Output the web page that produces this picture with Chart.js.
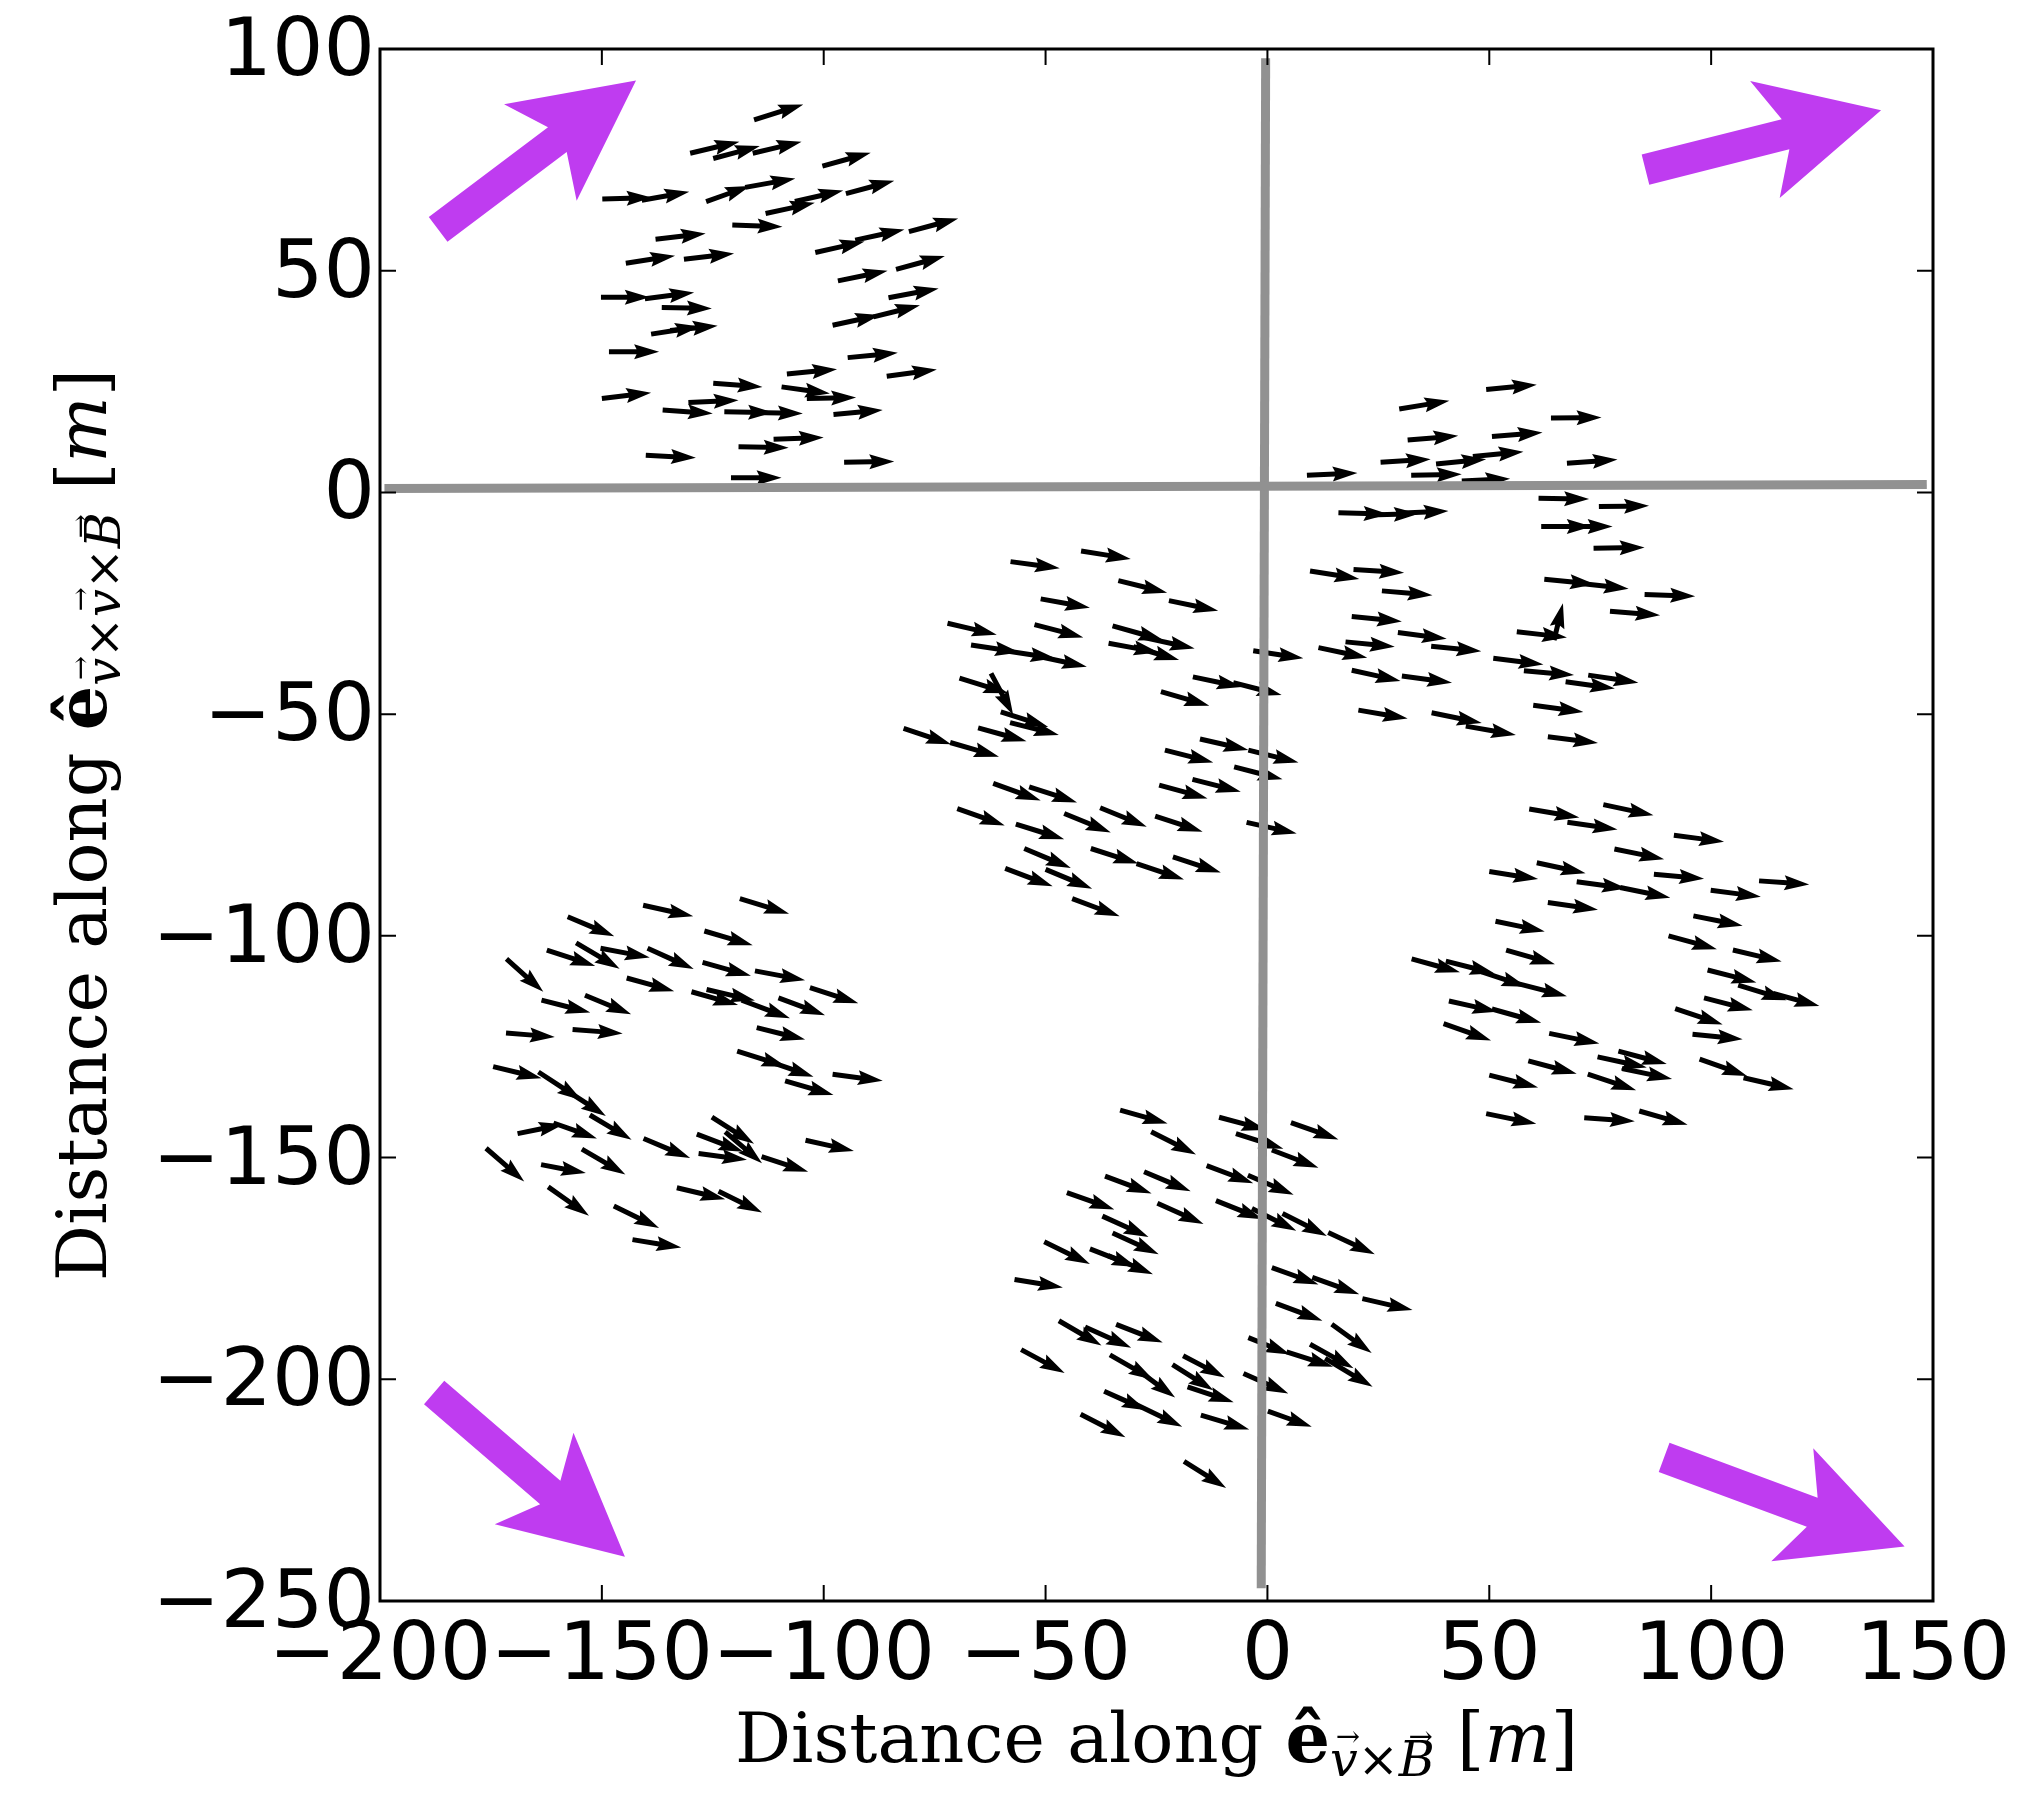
<!DOCTYPE html>
<html>
<head>
<meta charset="utf-8">
<script src="https://cdn.jsdelivr.net/npm/chart.js@4.4.1/dist/chart.umd.min.js"></script>
<style>
  html, body { margin: 0; padding: 0; background: #fff; }
</style>
</head>
<body>
<canvas id="quiverChart" width="2038" height="1793"></canvas>
<script>
// axis ranges / ticks (metres)
const xRange = [-200, 150];
const yRange = [-250, 100];
const tickStep = 50;

// quiver arrows per station group: [tail x, tail y, u, v]
const groupTopLeft = [
    [-115.7, 84.0, 11.1, 3.5], [-130.1, 76.5, 11.1, 2.6], [-124.9, 75.3, 10.5, 2.8], [-116.0, 76.5, 11.0, 2.6],
    [-100.3, 73.6, 10.9, 3.0], [-149.9, 66.2, 11.1, 0.3], [-141.0, 65.9, 10.7, 1.9], [-126.5, 65.6, 9.9, 3.5],
    [-117.7, 68.8, 11.3, 2.0], [-113.1, 62.9, 11.1, 2.4], [-106.5, 65.6, 10.9, 2.5], [-95.0, 67.4, 10.9, 2.9],
    [-120.6, 60.3, 11.3, -0.4], [-137.9, 57.1, 11.3, 1.3], [-144.6, 51.7, 11.1, 1.7], [-131.5, 52.6, 11.3, 1.3],
    [-101.9, 54.1, 11.1, 2.5], [-92.9, 56.9, 11.1, 2.4], [-80.8, 58.8, 11.1, 3.0], [-96.8, 47.7, 11.2, 2.3],
    [-83.7, 50.3, 11.0, 3.0], [-150.2, 44.0, 11.0, 0.0], [-140.3, 43.7, 11.1, 1.4], [-136.5, 41.7, 11.3, -0.2],
    [-138.9, 35.7, 11.0, 1.7], [-134.6, 36.5, 10.7, 1.1], [-85.4, 43.9, 11.3, 2.1], [-98.0, 37.7, 10.7, 2.3],
    [-88.8, 39.6, 10.5, 2.6], [-148.4, 31.7, 11.3, 0.0], [-94.6, 30.4, 11.3, 1.1], [-108.3, 26.7, 11.3, 1.1],
    [-85.8, 26.2, 11.3, 1.5], [-124.9, 24.6, 11.1, -0.8], [-109.5, 23.8, 10.9, -1.5], [-103.8, 21.2, 11.1, 0.2],
    [-150.0, 21.2, 11.1, 1.3], [-130.5, 20.3, 11.3, 0.5], [-136.3, 18.6, 11.3, -0.8], [-122.4, 18.2, 11.0, -0.2],
    [-116.2, 18.0, 11.5, -0.2], [-97.8, 17.6, 11.1, 1.0], [-111.3, 12.0, 11.3, 0.4], [-119.2, 10.3, 11.3, -0.2],
    [-140.1, 8.4, 11.3, -0.6], [-95.4, 6.8, 11.3, 0.2], [-120.9, 3.3, 11.4, 0.0]
];

const groupCentreRight = [
    [49.3, 23.2, 11.4, 1.1], [29.7, 18.8, 11.3, 1.9], [63.9, 16.8, 11.4, 0.1], [31.6, 11.8, 11.4, 1.0],
    [50.6, 12.6, 11.4, 0.9], [25.5, 6.8, 11.3, 0.7], [38.0, 6.4, 11.3, 1.1], [46.3, 8.1, 11.4, 1.1],
    [67.5, 6.6, 11.4, 0.8], [8.9, 3.9, 11.4, 0.5], [32.4, 3.9, 11.4, 0.2], [43.8, 2.6, 10.9, 0.5],
    [61.1, -1.3, 11.4, -0.2], [74.7, -3.2, 11.3, 0.2], [16.0, -4.6, 11.3, -0.3], [22.8, -5.1, 11.3, 0.3],
    [29.5, -4.7, 11.3, 0.5], [61.7, -7.7, 11.4, 0.0], [67.3, -7.7, 10.5, 0.0], [73.5, -12.6, 11.5, 0.2],
    [9.6, -17.7, 11.1, -1.8], [19.4, -17.4, 11.4, -0.7], [25.8, -22.2, 11.4, -1.0], [62.4, -19.6, 11.4, -1.1],
    [70.1, -20.5, 11.3, -1.2], [85.0, -23.0, 11.4, -0.4], [77.2, -26.8, 11.3, -0.9], [64.6, -33.3, 2.0, 8.3],
    [56.2, -31.4, 11.3, -1.3], [19.0, -28.0, 11.3, -1.1], [29.4, -31.6, 11.0, -1.4], [17.6, -33.7, 11.1, -1.1],
    [11.5, -35.0, 11.0, -2.3], [36.9, -34.7, 11.3, -1.1], [50.9, -37.4, 11.3, -1.4], [57.8, -40.2, 11.3, -1.0],
    [67.2, -42.7, 11.1, -1.5], [72.3, -41.2, 11.3, -1.7], [19.0, -40.1, 11.0, -2.4], [30.3, -41.4, 11.3, -1.5],
    [20.5, -49.1, 11.1, -1.9], [37.0, -49.7, 11.3, -2.3], [44.7, -52.7, 11.3, -2.0], [59.9, -48.0, 11.3, -1.5],
    [63.2, -55.1, 11.3, -1.4]
];

const groupMiddle = [
    [-57.9, -15.6, 11.1, -1.5], [-42.0, -13.2, 11.2, -1.8], [-33.6, -19.9, 11.0, -2.7], [-51.1, -24.0, 11.1, -2.0],
    [-22.2, -24.4, 11.1, -2.3], [-72.1, -29.5, 11.1, -2.6], [-52.5, -29.8, 11.0, -2.9], [-34.9, -30.1, 11.4, -3.2],
    [-28.0, -32.7, 11.6, -2.5], [-35.8, -34.0, 11.3, -2.1], [-30.2, -34.8, 10.3, -3.0], [-66.8, -34.4, 11.0, -1.7],
    [-59.1, -35.7, 11.3, -1.7], [-52.0, -36.9, 11.3, -2.4], [-3.2, -35.7, 11.3, -1.7], [-69.4, -41.9, 11.0, -3.4],
    [-62.3, -40.8, 5.0, -9.4], [-16.8, -41.6, 11.0, -2.3], [-7.7, -42.9, 10.9, -2.8], [-24.0, -44.9, 10.9, -3.2],
    [-60.1, -49.5, 10.7, -3.4], [-58.0, -51.9, 11.0, -2.8], [-82.0, -53.2, 10.7, -3.6], [-71.5, -56.4, 11.0, -3.2],
    [-65.2, -53.1, 10.9, -3.0], [-15.2, -55.6, 10.9, -2.5], [-4.3, -58.1, 11.3, -2.8], [-23.1, -58.1, 10.9, -2.8],
    [-7.5, -61.9, 10.9, -2.8], [-16.9, -64.7, 10.9, -2.8], [-24.4, -66.0, 10.9, -3.0], [-61.8, -65.6, 10.7, -3.9],
    [-53.7, -66.4, 10.8, -3.5], [-69.9, -71.3, 10.7, -3.8], [-56.7, -74.8, 10.9, -3.4], [-45.8, -72.4, 10.5, -4.3],
    [-37.7, -71.1, 10.5, -4.3], [-25.3, -73.0, 10.7, -3.5], [-4.7, -74.4, 11.3, -2.5], [-54.8, -80.3, 10.5, -4.4],
    [-39.8, -80.3, 10.7, -3.4], [-29.5, -83.7, 10.7, -3.6], [-21.3, -82.2, 10.8, -3.5], [-59.1, -84.8, 10.7, -4.0],
    [-50.0, -85.0, 10.5, -4.4], [-44.0, -91.6, 10.7, -4.0]
];

const groupRight = [
    [59.0, -71.4, 11.3, -1.9], [75.7, -70.4, 11.3, -2.4], [67.6, -74.4, 11.3, -1.6], [91.6, -77.3, 11.3, -1.5],
    [78.2, -80.4, 11.2, -2.3], [60.7, -83.5, 11.0, -2.4], [50.0, -85.5, 11.0, -1.7], [87.1, -86.1, 11.3, -1.0],
    [110.8, -87.6, 11.3, -0.8], [69.7, -87.8, 11.3, -1.5], [79.5, -89.1, 11.3, -2.3], [99.9, -89.7, 11.3, -1.5],
    [63.2, -92.5, 11.3, -1.6], [96.0, -95.5, 11.1, -2.2], [51.4, -96.7, 11.1, -2.3], [90.4, -100.0, 10.9, -3.0],
    [104.9, -103.2, 11.0, -2.6], [53.8, -103.2, 11.0, -3.2], [32.5, -105.2, 10.9, -3.0], [40.2, -105.7, 11.0, -2.8],
    [48.3, -108.1, 10.1, -3.4], [56.2, -110.7, 11.3, -2.9], [99.2, -107.7, 11.0, -2.8], [106.1, -111.1, 10.9, -3.4],
    [114.0, -113.0, 10.4, -2.8], [98.4, -114.0, 11.0, -2.8], [40.9, -114.7, 10.9, -2.4], [50.6, -116.5, 11.1, -3.1],
    [91.9, -116.4, 10.7, -3.6], [39.7, -119.8, 10.7, -3.8], [63.5, -122.0, 11.3, -2.3], [95.8, -122.2, 11.3, -1.1],
    [79.1, -126.0, 10.9, -2.9], [74.4, -127.3, 11.1, -2.4], [79.9, -129.9, 11.3, -2.4], [58.8, -128.2, 10.9, -2.9],
    [97.4, -127.8, 10.7, -3.8], [107.3, -132.0, 11.3, -2.6], [50.0, -131.4, 11.0, -2.8], [72.2, -131.2, 10.9, -3.6],
    [49.3, -140.1, 11.3, -2.3], [71.4, -141.0, 11.4, -0.8], [83.8, -139.5, 10.9, -3.1]
];

const groupLeft = [
    [-140.7, -93.1, 11.3, -2.5], [-118.9, -91.6, 11.1, -3.4], [-157.7, -95.7, 10.5, -4.4], [-126.9, -98.9, 10.9, -3.2],
    [-162.4, -103.2, 10.9, -3.6], [-155.8, -101.6, 9.8, -5.8], [-150.3, -102.8, 11.1, -2.1], [-139.7, -102.8, 10.4, -4.7],
    [-127.3, -106.0, 10.9, -3.0], [-115.5, -107.9, 11.3, -2.1], [-103.1, -111.7, 10.9, -3.5], [-171.5, -105.2, 8.3, -7.4],
    [-144.4, -109.5, 10.7, -3.0], [-163.6, -114.5, 11.0, -2.8], [-153.8, -113.4, 10.4, -4.3], [-129.8, -112.6, 10.5, -3.0],
    [-126.4, -112.1, 10.9, -2.5], [-118.5, -114.5, 10.9, -4.1], [-110.2, -114.0, 10.5, -3.9], [-171.6, -121.9, 11.0, -0.9],
    [-156.6, -121.1, 11.3, -0.9], [-115.1, -120.7, 10.9, -2.7], [-119.5, -126.0, 11.1, -3.5], [-113.2, -128.0, 10.9, -3.8],
    [-108.7, -132.7, 10.9, -3.2], [-98.0, -131.2, 11.3, -1.5], [-174.5, -129.5, 10.9, -2.6], [-164.3, -130.7, 9.8, -6.4],
    [-158.7, -134.4, 9.6, -6.2], [-152.7, -140.4, 9.4, -5.6], [-169.0, -144.6, 10.4, 2.1], [-160.9, -142.2, 9.8, -3.5],
    [-176.1, -147.9, 8.6, -7.5], [-163.7, -151.6, 10.1, -1.9], [-154.5, -148.1, 9.8, -5.7], [-140.6, -145.7, 10.5, -4.4],
    [-125.2, -140.9, 9.5, -6.0], [-128.6, -144.7, 10.5, -4.0], [-122.2, -144.2, 8.3, -7.1], [-128.2, -149.1, 10.9, -1.4],
    [-114.0, -149.8, 10.5, -3.4], [-104.1, -146.1, 10.9, -2.4], [-162.1, -156.6, 9.2, -6.5], [-147.3, -160.9, 10.2, -5.0],
    [-133.1, -156.8, 10.9, -2.6], [-123.7, -157.6, 9.8, -4.8], [-143.1, -168.5, 11.0, -1.8]
];

const groupBottom = [
    [-33.2, -139.3, 10.7, -3.0], [-10.9, -140.9, 10.7, -2.9], [5.3, -142.1, 10.7, -3.8], [-26.2, -144.2, 10.1, -5.1],
    [-7.1, -144.6, 10.7, -3.4], [1.0, -148.3, 10.5, -4.0], [-13.7, -151.8, 10.5, -4.0], [-4.4, -154.0, 10.3, -4.4],
    [-36.6, -154.2, 10.5, -3.9], [-27.8, -153.2, 10.5, -4.4], [-45.2, -157.9, 10.7, -3.8], [-24.8, -160.3, 10.4, -4.7],
    [-11.6, -159.7, 10.5, -4.2], [-3.5, -161.5, 10.0, -5.0], [3.4, -162.6, 10.0, -5.1], [13.7, -166.9, 10.5, -4.9],
    [-37.2, -163.2, 10.4, -4.7], [-34.9, -167.0, 10.4, -4.8], [-50.3, -169.0, 10.3, -5.0], [-40.0, -170.6, 10.5, -4.1],
    [-35.9, -172.1, 10.1, -4.2], [-57.0, -177.5, 10.9, -1.8], [1.0, -174.8, 10.5, -3.8], [10.1, -177.0, 10.6, -3.8],
    [21.4, -181.8, 11.3, -2.6], [1.9, -182.9, 10.5, -3.9], [-47.0, -186.8, 9.6, -5.6], [-41.1, -188.2, 10.4, -4.7],
    [-34.1, -187.6, 10.5, -4.1], [14.5, -187.6, 9.0, -6.5], [-4.3, -190.6, 9.4, -3.8], [4.3, -193.8, 10.5, -3.4],
    [9.6, -192.1, 9.8, -5.4], [13.0, -195.3, 10.7, -6.4], [-55.5, -193.3, 9.8, -5.3], [-35.5, -194.5, 9.8, -5.6],
    [-30.2, -197.2, 9.4, -6.9], [-19.0, -194.7, 9.4, -4.9], [-21.4, -196.7, 9.2, -5.8], [-18.0, -201.7, 10.4, -3.5],
    [-5.4, -198.7, 10.1, -4.5], [-36.8, -202.7, 9.6, -4.3], [-29.6, -205.7, 10.4, -5.0], [-15.0, -208.1, 10.9, -3.2],
    [0.1, -207.2, 9.9, -3.5], [-42.1, -207.9, 10.1, -5.2], [-18.8, -218.5, 9.5, -6.0]
];

// big magenta arrows in the corners: [tail x, tail y, dx, dy]
const cornerArrows = [
    [-186.9, 59.3, 44.6, 33.6],
    [85.2, 72.8, 53.1, 13.4],
    [-187.8, -203.0, 43.0, -37.0],
    [89.4, -217.6, 54.2, -20.1]
];

// grey reference axes through the origin
const hLine = [{ x: -199.0, y: 0.9 }, { x: 148.6, y: 1.8 }];
const vLine = [{ x: -0.4, y: 97.9 }, { x: -1.4, y: -247.1 }];

const allGroups = [groupTopLeft, groupCentreRight, groupMiddle, groupRight, groupLeft, groupBottom];

const GREY = '#919191';
const MAGENTA = '#bf3cf0';
const SERIF = '"DejaVu Serif", serif';

// polygon of a matplotlib-style arrow (tail at x0,y0)
function arrowPoly(x0, y0, dx, dy, w, hw, hl, hal) {
    const len = Math.hypot(dx, dy);
    const ux = dx / len, uy = dy / len;
    const nx = -uy, ny = ux;
    const pt = (a, b) => [x0 + ux * a + nx * b, y0 + uy * a + ny * b];
    return [
        pt(0, w / 2), pt(len - hal, w / 2), pt(len - hl, hw / 2), pt(len, 0),
        pt(len - hl, -hw / 2), pt(len - hal, -w / 2), pt(0, -w / 2)
    ];
}

function fillPoly(ctx, pts) {
    ctx.beginPath();
    pts.forEach((p, i) => i ? ctx.lineTo(p[0], p[1]) : ctx.moveTo(p[0], p[1]));
    ctx.closePath();
    ctx.fill();
}

// draws a label made of pieces centred on the current origin
function drawMath(ctx, pieces, size) {
    let total = 0;
    pieces.forEach(p => {
        ctx.font = `${p.style || ''} ${Math.round(size * (p.scale || 1))}px ${SERIF}`;
        p.w = ctx.measureText(p.t).width;
        total += p.w;
    });
    let x = -total / 2;
    ctx.textBaseline = 'alphabetic';
    ctx.textAlign = 'left';
    pieces.forEach(p => {
        const s = size * (p.scale || 1);
        const dy = (p.dy || 0) * size;
        ctx.font = `${p.style || ''} ${Math.round(s)}px ${SERIF}`;
        ctx.fillText(p.t, x, dy);
        if (p.vec) {
            ctx.font = `${Math.round(s * 0.6)}px ${SERIF}`;
            const aw = ctx.measureText('\u2192').width;
            ctx.fillText('\u2192', x + p.w / 2 - aw / 2 + s * 0.08, dy - s * 0.62);
        }
        x += p.w;
    });
}

const sub = (t, style, vec) => ({ t, style, scale: 0.7, dy: 0.2, vec });

const xTitle = [
    { t: 'Distance along ' }, { t: '\u00ea', style: 'bold' },
    sub('v', 'italic', true), sub('\u00d7'), sub('B', 'italic', true),
    { t: ' [' }, { t: 'm', style: 'italic' }, { t: ']' }
];
const yTitle = [
    { t: 'Distance along ' }, { t: '\u00ea', style: 'bold' },
    sub('v', 'italic', true), sub('\u00d7'), sub('v', 'italic', true), sub('\u00d7'), sub('B', 'italic', true),
    { t: ' [' }, { t: 'm', style: 'italic' }, { t: ']' }
];

const quiverPlugin = {
    id: 'quiver',
    beforeDatasetsDraw(chart) {
        const { ctx, chartArea: a, scales: { x, y } } = chart;
        ctx.save();
        ctx.beginPath();
        ctx.rect(a.left, a.top, a.right - a.left, a.bottom - a.top);
        ctx.clip();

        // black station arrows, sized in pixels like quiver
        ctx.fillStyle = '#000';
        allGroups.forEach(group => group.forEach(([px, py, u, v]) => {
            const x0 = x.getPixelForValue(px), y0 = y.getPixelForValue(py);
            const x1 = x.getPixelForValue(px + u), y1 = y.getPixelForValue(py + v);
            fillPoly(ctx, arrowPoly(x0, y0, x1 - x0, y1 - y0, 5, 15, 25, 22.5));
        }));

        // magenta arrows, sized in data units
        ctx.fillStyle = MAGENTA;
        cornerArrows.forEach(([px, py, dx, dy]) => {
            const pts = arrowPoly(px, py, dx, dy, 7.0, 27.2, 27.0, 22.2)
                .map(([qx, qy]) => [x.getPixelForValue(qx), y.getPixelForValue(qy)]);
            fillPoly(ctx, pts);
        });
        ctx.restore();
    },
    afterDraw(chart) {
        const { ctx, chartArea: a, scales: { x, y } } = chart;
        ctx.save();
        ctx.strokeStyle = '#000';

        // inward tick marks on all four sides
        ctx.lineWidth = 2;
        ctx.beginPath();
        x.ticks.forEach(t => {
            const p = x.getPixelForValue(t.value);
            ctx.moveTo(p, a.bottom); ctx.lineTo(p, a.bottom - 16);
            ctx.moveTo(p, a.top); ctx.lineTo(p, a.top + 16);
        });
        y.ticks.forEach(t => {
            const p = y.getPixelForValue(t.value);
            ctx.moveTo(a.left, p); ctx.lineTo(a.left + 16, p);
            ctx.moveTo(a.right, p); ctx.lineTo(a.right - 16, p);
        });
        ctx.stroke();

        // frame
        ctx.lineWidth = 3;
        ctx.strokeRect(a.left, a.top, a.right - a.left, a.bottom - a.top);

        // axis titles
        ctx.fillStyle = '#000';
        ctx.save();
        ctx.translate((a.left + a.right) / 2, 1762);
        drawMath(ctx, xTitle, 70);
        ctx.restore();

        ctx.save();
        ctx.translate(106, (a.top + a.bottom) / 2);
        ctx.rotate(-Math.PI / 2);
        drawMath(ctx, yTitle, 70);
        ctx.restore();

        ctx.restore();
    }
};

const tickLabel = v => String(v).replace('-', '\u2212');
const tickFont = { family: '"DejaVu Sans", sans-serif', size: 81 };

new Chart(document.getElementById('quiverChart'), {
    type: 'scatter',
    data: {
        datasets: [
            { type: 'line', data: hLine, borderColor: GREY, borderWidth: 9, pointRadius: 0, borderCapStyle: 'butt' },
            { type: 'line', data: vLine, borderColor: GREY, borderWidth: 9, pointRadius: 0, borderCapStyle: 'butt' }
        ]
    },
    options: {
        responsive: false,
        animation: false,
        devicePixelRatio: 1,
        layout: { padding: { left: 0, top: 49, right: 105, bottom: 0 } },
        plugins: { legend: { display: false }, tooltip: { enabled: false } },
        scales: {
            x: {
                type: 'linear', position: 'bottom', min: xRange[0], max: xRange[1],
                grid: { display: false, drawTicks: false }, border: { display: false },
                ticks: {
                    stepSize: tickStep, autoSkip: false, maxRotation: 0, minRotation: 0,
                    padding: 8, color: '#000', font: tickFont, callback: tickLabel
                },
                afterFit(s) { s.height = 192; s.paddingLeft = 0; s.paddingRight = 0; }
            },
            y: {
                type: 'linear', position: 'left', min: yRange[0], max: yRange[1],
                grid: { display: false, drawTicks: false }, border: { display: false },
                ticks: {
                    stepSize: tickStep, autoSkip: false, padding: 5, labelOffset: 5, color: '#000',
                    font: tickFont, callback: tickLabel
                },
                afterFit(s) { s.width = 380; s.paddingTop = 0; s.paddingBottom = 0; }
            }
        }
    },
    plugins: [quiverPlugin]
});
</script>
</body>
</html>
